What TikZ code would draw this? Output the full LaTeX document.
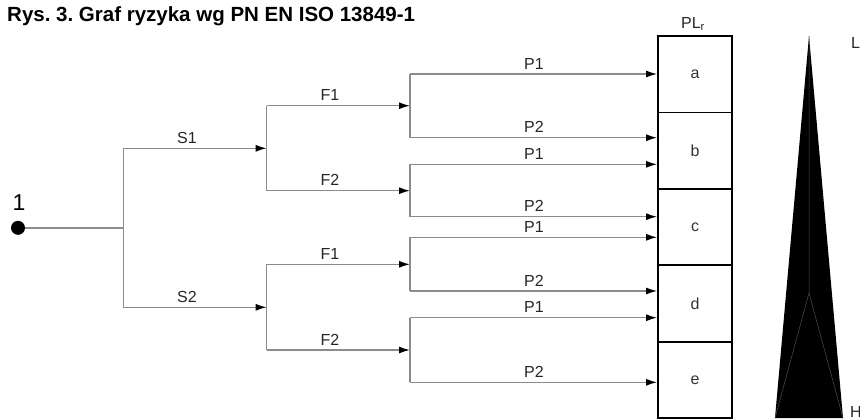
\documentclass[tikz,border=0pt]{standalone}
\usepackage{fontspec}
\setmainfont{Liberation Sans}
\usetikzlibrary{arrows.meta}
\frenchspacing
\tikzset{
  gline/.style={draw=black!45, line width=1.4pt},
  garrow/.style={gline, -{Latex[length=11pt,width=7pt,color=black]}},
  lab/.style={font=\fontsize{16}{18}\selectfont, anchor=base, inner sep=0pt, text=black!85},
  plbox/.style={draw=black, line width=1.8pt, minimum width=74pt, minimum height=76.4pt, inner sep=0pt, font=\fontsize{16}{18}\selectfont, text=black!80},
}
\begin{document}
\begin{tikzpicture}[x=1pt,y=-1pt]
\useasboundingbox (0,0) rectangle (860,418);
% title
\node[anchor=base west, inner sep=0pt, font=\bfseries\fontsize{20.5}{24}\selectfont] (title) at (7,21) {Rys. 3. Graf ryzyka wg PN EN ISO 13849-1};
% start
\node[circle, fill=black, minimum size=14pt, inner sep=0pt] (start) at (18,227.8) {};
\node[anchor=base, inner sep=0pt, font=\fontsize{23}{26}\selectfont] (one) at (19,210) {1};
% S split
\coordinate (s) at (123.3,227.8);
\coordinate (s1) at (123.3,148.3);
\coordinate (s2) at (123.3,307.3);
\draw[gline] (start) -- (s);
\draw[gline] (s1) -- (s2);
% F splits
\coordinate (f1) at (266.7,148.3);
\coordinate (f2) at (266.7,307.3);
\draw[garrow] (s1) -- (f1);
\draw[garrow] (s2) -- (f2);
\node[lab] (ls1) at (187,143.3) {S1};
\node[lab] (ls2) at (187,302.3) {S2};
\coordinate (f11) at (266.7,105.7);
\coordinate (f12) at (266.7,190.7);
\coordinate (f21) at (266.7,264.3);
\coordinate (f22) at (266.7,350);
\draw[gline] (f11) -- (f12);
\draw[gline] (f21) -- (f22);
% P splits
\coordinate (p11) at (410,105.7);
\coordinate (p12) at (410,190.7);
\coordinate (p21) at (410,264.3);
\coordinate (p22) at (410,350);
\draw[garrow] (f11) -- (p11);
\draw[garrow] (f12) -- (p12);
\draw[garrow] (f21) -- (p21);
\draw[garrow] (f22) -- (p22);
\node[lab] (lf11) at (330,100.7) {F1};
\node[lab] (lf12) at (330,185.7) {F2};
\node[lab] (lf21) at (330,259.3) {F1};
\node[lab] (lf22) at (330,345) {F2};
\coordinate (q1) at (410,74);
\coordinate (q2) at (410,137.7);
\coordinate (q3) at (410,164.3);
\coordinate (q4) at (410,216.7);
\coordinate (q5) at (410,237.3);
\coordinate (q6) at (410,291);
\coordinate (q7) at (410,317.7);
\coordinate (q8) at (410,382.3);
\draw[gline] (q1) -- (q2);
\draw[gline] (q3) -- (q4);
\draw[gline] (q5) -- (q6);
\draw[gline] (q7) -- (q8);
% boxes
\node[plbox] (ba) at (695,74.2) {a};
\node[plbox] (bb) at (695,150.6) {b};
\node[plbox] (bc) at (695,227) {c};
\node[plbox] (bd) at (695,303.4) {d};
\node[plbox] (be) at (695,379.8) {e};
\node[anchor=base, inner sep=0pt, font=\fontsize{16}{18}\selectfont, text=black!85] (plr) at (693,28) {PL\textsubscript{r}};
% P arrows
\draw[garrow] (q1) -- (q1 -| ba.west);
\draw[garrow] (q2) -- (q2 -| bb.west);
\draw[garrow] (q3) -- (q3 -| bb.west);
\draw[garrow] (q4) -- (q4 -| bc.west);
\draw[garrow] (q5) -- (q5 -| bc.west);
\draw[garrow] (q6) -- (q6 -| bd.west);
\draw[garrow] (q7) -- (q7 -| bd.west);
\draw[garrow] (q8) -- (q8 -| be.west);
\node[lab] (lp1) at (534,69) {P1};
\node[lab] (lp2) at (534,132.7) {P2};
\node[lab] (lp3) at (534,159.3) {P1};
\node[lab] (lp4) at (534,211.7) {P2};
\node[lab] (lp5) at (534,232.3) {P1};
\node[lab] (lp6) at (534,286) {P2};
\node[lab] (lp7) at (534,312.7) {P1};
\node[lab] (lp8) at (534,377.3) {P2};
% risk triangle
\coordinate (tap) at (809,36);
\coordinate (tl) at (775,418);
\coordinate (tr) at (843,418);
\coordinate (tm) at (809,293);
\fill[black] (tap) -- (tl) -- (tr) -- cycle;
\draw[black!70, line width=0.5pt] (tap) -- (tm) -- (tl);
\draw[black!70, line width=0.5pt] (tm) -- (tr);
\node[anchor=base west, inner sep=0pt, font=\fontsize{16}{18}\selectfont, text=black!85] (lL) at (851,48) {L};
\node[anchor=base west, inner sep=0pt, font=\fontsize{16}{18}\selectfont, text=black!85] (lH) at (850,417) {H};
\end{tikzpicture}
\end{document}
